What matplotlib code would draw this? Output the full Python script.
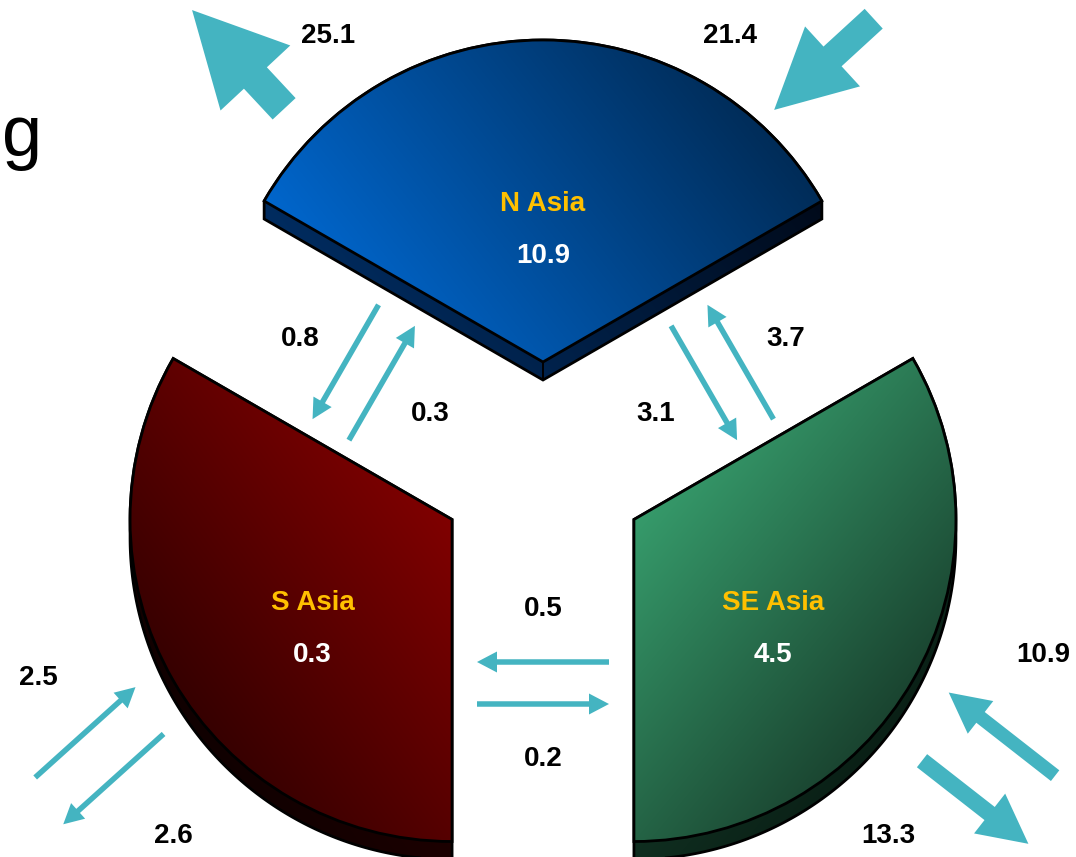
import numpy as np
import matplotlib.pyplot as plt
from matplotlib.patches import FancyArrow, Polygon
from matplotlib.colors import to_rgb

# regions and the flow that stays inside each one
regions = ['N Asia', 'S Asia', 'SE Asia']
intra = [10.9, 0.3, 4.5]

# flows between regions
link_src = ['N Asia', 'S Asia', 'SE Asia', 'N Asia', 'SE Asia', 'S Asia']
link_dst = ['S Asia', 'N Asia', 'N Asia', 'SE Asia', 'S Asia', 'SE Asia']
link_value = [0.8, 0.3, 3.7, 3.1, 0.5, 0.2]

# flows to / from the rest of the world
ext_region = ['N Asia', 'N Asia', 'S Asia', 'S Asia', 'SE Asia', 'SE Asia']
ext_dir = ['out', 'in', 'in', 'out', 'in', 'out']
ext_value = [25.1, 21.4, 2.5, 2.6, 10.9, 13.3]

# where the outside arrows sit around the pie (deg, px from centre)
ext_angle = [126.8, 55.1, 210.1, 216.0, -30.2, -37.8]
ext_radius = [509, 491, 529, 531, 531, 547]
ext_axis = [133, 42.5, 222, 222, 322, 322]
ext_label_angle = [116.4, 66.7, 202.4, 224.7, -20.3, -46.7]
ext_label_radius = [484, 473, 546, 520, 533, 503]

# face colours
top_light = ['#0066CC', '#800000', '#369B6B']
top_dark = ['#002C58', '#360000', '#1A4430']
side_light = ['#002C60', '#2C0000', '#1A4832']
side_dark = ['#000A1A', '#100000', '#0A2016']
shade_angle = [38, 215, -40]

R = 322          # pie radius (px)
EXPLODE = 105    # offset of each slice
T = 18           # slab thickness
TEAL = '#44B4C1'
FONT = ['Liberation Sans', 'DejaVu Sans']


def convex_hull(points):
    pts = sorted(map(tuple, points))

    def cross(o, a, b):
        return (a[0] - o[0]) * (b[1] - o[1]) - (a[1] - o[1]) * (b[0] - o[0])

    lower, upper = [], []
    for p in pts:
        while len(lower) >= 2 and cross(lower[-2], lower[-1], p) <= 0:
            lower.pop()
        lower.append(p)
    for p in reversed(pts):
        while len(upper) >= 2 and cross(upper[-2], upper[-1], p) <= 0:
            upper.pop()
        upper.append(p)
    return np.array(lower[:-1] + upper[:-1])


def shade(ax, pts, c0, c1, ang, clip, zorder):
    x0, y0 = pts.min(0)
    x1, y1 = pts.max(0)
    gx, gy = np.meshgrid(np.linspace(x0, x1, 200), np.linspace(y0, y1, 200))
    d = np.array([np.cos(np.radians(ang)), np.sin(np.radians(ang))])
    pp = pts @ d
    t = np.clip((gx * d[0] + gy * d[1] - pp.min()) / (pp.max() - pp.min()), 0, 1)[..., None]
    img = (1 - t) * np.array(to_rgb(c0)) + t * np.array(to_rgb(c1))
    im = ax.imshow(img, extent=(x0, x1, y0, y1), origin='lower',
                   interpolation='bilinear', zorder=zorder)
    im.set_clip_path(clip)


def flow_arrow(ax, start, end, value):
    dx, dy = end - start
    if value >= 10:
        kw = dict(width=1.25 * value, head_width=3.8 * value, head_length=3.7 * value)
    else:
        kw = dict(width=5.5, head_width=21, head_length=20)
    ax.add_patch(FancyArrow(start[0], start[1], dx, dy, length_includes_head=True,
                            facecolor=TEAL, edgecolor='none', lw=0, zorder=5, **kw))


def label(ax, x, y, s, color='black'):
    ax.text(x, y - 10, s, ha='center', va='baseline', fontsize=20,
            fontweight='bold', color=color, family=FONT, zorder=6)


fig = plt.figure(figsize=(10.76, 8.57), dpi=100)
ax = fig.add_axes([0, 0, 1, 1])

wedges, _ = ax.pie([1] * len(regions), startangle=30, radius=R, center=(0, 0),
                   explode=[EXPLODE] * len(regions), frame=True,
                   wedgeprops=dict(facecolor='none', edgecolor='black', linewidth=2, zorder=4))

bisector = {}
for i, (w, name) in enumerate(zip(wedges, regions)):
    cx, cy = w.center
    th = np.radians(np.linspace(w.theta1, w.theta2, 240))
    top = np.vstack([[cx, cy], np.column_stack([cx + w.r * np.cos(th), cy + w.r * np.sin(th)])])
    body = convex_hull(np.vstack([top, top - [0, T]]))

    side = Polygon(body, closed=True, facecolor='none', edgecolor='black', lw=2, zorder=2)
    ax.add_patch(side)
    shade(ax, body, side_light[i], side_dark[i], shade_angle[i], side, 1)
    for p in (top[0], top[1], top[-1]):
        ax.plot([p[0], p[0]], [p[1], p[1] - T], color='black', lw=1.4, zorder=2.5)
    shade(ax, top, top_light[i], top_dark[i], shade_angle[i], w, 3)

    mid = 0.5 * (w.theta1 + w.theta2)
    bisector[name] = mid
    u = np.array([np.cos(np.radians(mid)), np.sin(np.radians(mid))])
    lx, ly = np.array([cx, cy]) + 0.5 * R * u
    label(ax, lx, ly, name, '#FFC000')
    label(ax, lx, ly - 52, f'{intra[i]:.1f}', 'white')

# arrows between neighbouring slices, crossing the gaps
centre = np.array([0, -T / 2])
LINK_LEN = 132
for src, dst, v in zip(link_src, link_dst, link_value):
    s, d = bisector[src], bisector[dst]
    ccw = (d - s) % 360 == 120
    b = s + 60 if ccw else s - 60
    u = np.array([np.cos(np.radians(b)), np.sin(np.radians(b))])
    turn = np.radians(b + (90 if ccw else -90))
    across = np.array([np.cos(turn), np.sin(turn)])
    lane = 207 + (21 if ccw else -21)
    m = centre + lane * u
    flow_arrow(ax, m - across * LINK_LEN / 2, m + across * LINK_LEN / 2, v)
    lp = centre + (280 if ccw else 130) * u
    label(ax, lp[0], lp[1], f'{v:.1f}')

# arrows to and from outside the region
EXT_LEN = 135
for reg, dr, v, a, r, ax_ang, la, lr in zip(ext_region, ext_dir, ext_value, ext_angle,
                                            ext_radius, ext_axis, ext_label_angle,
                                            ext_label_radius):
    m = r * np.array([np.cos(np.radians(a)), np.sin(np.radians(a))])
    e = np.array([np.cos(np.radians(ax_ang)), np.sin(np.radians(ax_ang))])
    if dr == 'out':
        flow_arrow(ax, m - e * EXT_LEN / 2, m + e * EXT_LEN / 2, v)
    else:
        flow_arrow(ax, m + e * EXT_LEN / 2, m - e * EXT_LEN / 2, v)
    label(ax, lr * np.cos(np.radians(la)), lr * np.sin(np.radians(la)), f'{v:.1f}')

# last letter of the slide title at the left edge
ax.text(-541, 311, 'g', ha='left', va='baseline', fontsize=52,
        family=['Liberation Sans', 'DejaVu Sans'], color='black')

ax.set_xlim(-543, 533)
ax.set_ylim(-390, 467)
ax.set_aspect('equal')
ax.axis('off')

fig.savefig('out.png', dpi=100, facecolor='white')
